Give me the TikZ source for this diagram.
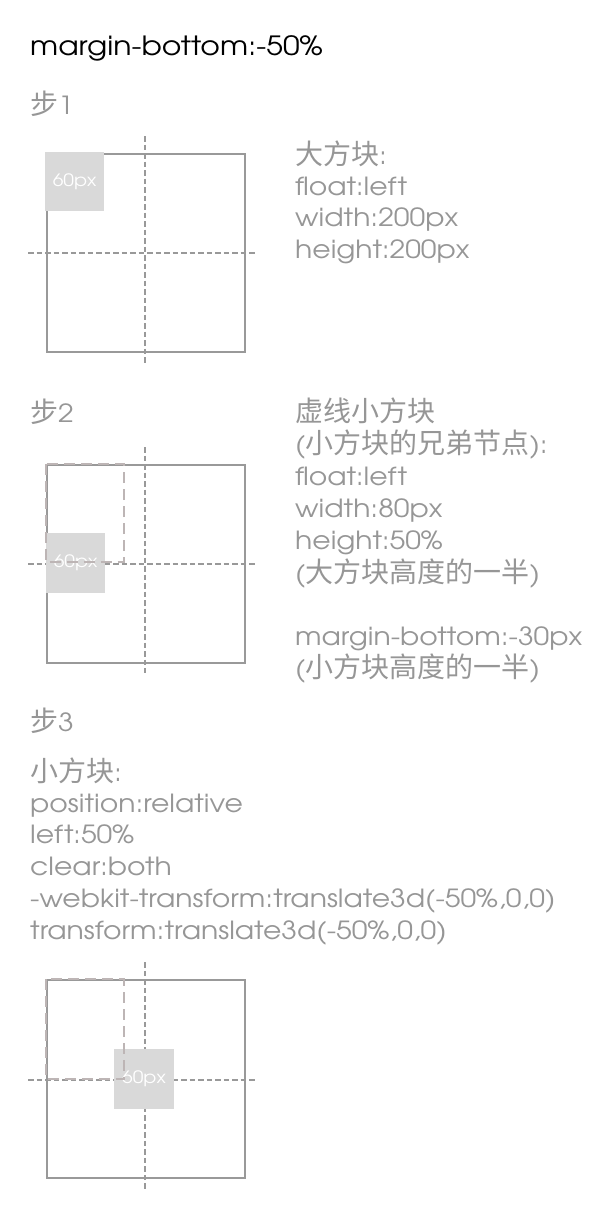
\documentclass[tikz,border=0pt]{standalone}
\usepackage{fontspec}
\setmainfont{texgyreadventor}[Extension=.otf,UprightFont=*-regular,BoldFont=*-bold,ItalicFont=*-italic,BoldItalicFont=*-bolditalic,FakeStretch=1.13]
\newfontfamily\cjk{Noto Sans CJK SC}
\newcommand{\zh}[1]{{\cjk\fontsize{28}{32}\selectfont #1}}
\definecolor{textgray}{HTML}{969696}
\definecolor{boxgray}{HTML}{999999}
\definecolor{guidegray}{HTML}{999999}
\definecolor{sibgray}{HTML}{BDB5B5}
\definecolor{smallgray}{HTML}{D9D9D9}
\tikzset{
  txt/.style={anchor=base west, inner sep=0pt, text=textgray, font=\fontsize{25}{32}\selectfont},
  ttl/.style={anchor=base west, inner sep=0pt, text=black, font=\fontsize{26.5}{32}\selectfont},
  bigbox/.style={draw=boxgray, line width=2pt, minimum size=198pt, inner sep=0pt, anchor=north west},
  guide/.style={draw=guidegray, line width=2pt, dash pattern=on 5.5pt off 3pt},
  sib/.style={draw=sibgray, line width=2pt, dash pattern=on 11pt off 6pt},
  smallsq/.style={fill=smallgray, minimum size=59.5pt, inner sep=0pt, text=white, font=\fontsize{17}{17}\selectfont}
}
\begin{document}
\begin{tikzpicture}[x=1pt,y=-1pt]
\useasboundingbox (0,0) rectangle (594,1215);

% title
\node[ttl] (title) at (30,56) {margin-bottom:-50\%};

% ---------- step 1 ----------
\node[txt] (s1) at (30,114) {\zh{步}1};
\node[bigbox] (b1) at (45.7,152.7) {};
\coordinate (v1t) at (145,136);
\coordinate (v1b) at (145,363);
\coordinate (h1l) at (28,253.3);
\coordinate (h1r) at (256,253.3);
\draw[guide] (v1t) -- (v1b);
\draw[guide] (h1l) -- (h1r);
\node[smallsq, anchor=north west] (q1) at (44.7,151.7) {60px};
\node[txt] (d1a) at (295,164) {\zh{大方块}:};
\node[txt] (d1b) at (295,195) {float:left};
\node[txt] (d1c) at (295,226.5) {width:200px};
\node[txt] (d1d) at (295,258) {height:200px};

% ---------- step 2 ----------
\node[txt] (s2) at (30,422) {\zh{步}2};
\node[bigbox] (b2) at (45.7,463.7) {};
\coordinate (v2t) at (145,447);
\coordinate (v2b) at (145,673);
\coordinate (h2l) at (28,563.7);
\coordinate (h2r) at (256,563.7);
\draw[guide] (v2t) -- (v2b);
\draw[guide] (h2l) -- (h2r);
\node[smallsq, anchor=north west] (q2) at (45.7,533) {60px};
\coordinate (r2a) at (45.7,463.7);
\coordinate (r2b) at (124,561.7);
\draw[sib] (r2a) rectangle (r2b);
\node[txt] (d2a) at (295,421) {\zh{虚线小方块}};
\node[txt] (d2b) at (295,453) {(\zh{小方块的兄弟节点}):};
\node[txt] (d2c) at (295,485) {float:left};
\node[txt] (d2d) at (295,517) {width:80px};
\node[txt] (d2e) at (295,549) {height:50\%};
\node[txt] (d2f) at (295,582) {(\zh{大方块高度的一半})};
\node[txt] (d2g) at (295,645) {margin-bottom:-30px};
\node[txt] (d2h) at (295,677) {(\zh{小方块高度的一半})};

% ---------- step 3 ----------
\node[txt] (s3) at (30,731) {\zh{步}3};
\node[txt] (d3a) at (30,781) {\zh{小方块}:};
\node[txt] (d3b) at (30,812) {position:relative};
\node[txt] (d3c) at (30,843) {left:50\%};
\node[txt] (d3d) at (30,875) {clear:both};
\node[txt] (d3e) at (30,907) {-webkit-transform:translate3d(-50\%,0,0)};
\node[txt] (d3f) at (30,939) {transform:translate3d(-50\%,0,0)};

\node[bigbox] (b3) at (45.7,979.3) {};
\coordinate (v3t) at (145,962.3);
\coordinate (v3b) at (145,1189);
\coordinate (h3l) at (28,1080);
\coordinate (h3r) at (256,1080);
\draw[guide] (v3t) -- (v3b);
\draw[guide] (h3l) -- (h3r);
\node[smallsq, anchor=north west] (q3) at (114,1049) {60px};
\coordinate (r3a) at (45.7,979.3);
\coordinate (r3b) at (124,1079.3);
\draw[sib] (r3a) rectangle (r3b);
\end{tikzpicture}
\end{document}
